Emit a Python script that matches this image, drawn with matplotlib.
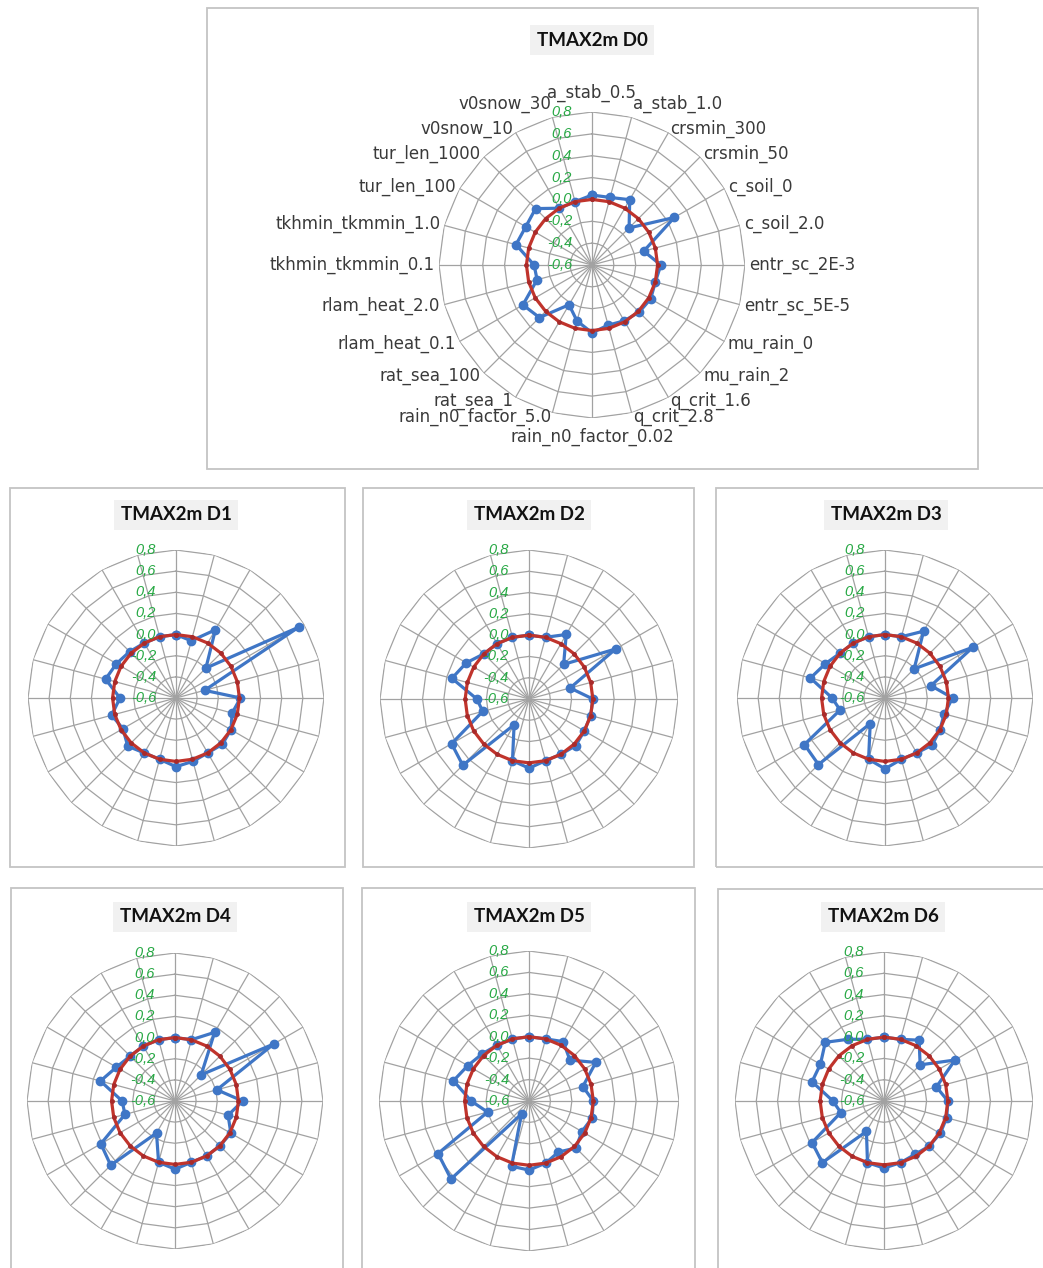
import numpy as np
import matplotlib
matplotlib.use("Agg")
import matplotlib.pyplot as plt
from matplotlib.patches import Rectangle
from matplotlib.transforms import offset_copy

# 24 perturbed parameters, clockwise from the top
categories = [
    "a_stab_0.5", "a_stab_1.0", "crsmin_300", "crsmin_50", "c_soil_0",
    "c_soil_2.0", "entr_sc_2E-3", "entr_sc_5E-5", "mu_rain_0", "mu_rain_2",
    "q_crit_1.6", "q_crit_2.8", "rain_n0_factor_0.02", "rain_n0_factor_5.0",
    "rat_sea_1", "rat_sea_100", "rlam_heat_0.1", "rlam_heat_2.0",
    "tkhmin_tkmmin_0.1", "tkhmin_tkmmin_1.0", "tur_len_100", "tur_len_1000",
    "v0snow_10", "v0snow_30",
]

r_ticks = [-0.6, -0.4, -0.2, 0.0, 0.2, 0.4, 0.6, 0.8]
r_labels = ["-0,6", "-0,4", "-0,2", "0,0", "0,2", "0,4", "0,6", "0,8"]

reference = [0.0, 0.0, 0.0, 0.0, 0.0, 0.0, 0.0, 0.0, 0.0, 0.0, 0.0, 0.0,
             0.0, 0.0, 0.0, 0.0, 0.0, 0.0, 0.0, 0.0, 0.0, 0.0, 0.0, 0.0]

tmax_d0 = [0.04, 0.04, 0.09, -0.12, 0.27, -0.11, 0.03, 0.00, 0.02, 0.01, -0.01, -0.03,
           0.02, -0.07, -0.18, 0.08, 0.13, -0.08, -0.07, 0.12, 0.10, 0.13, 0.00, 0.00]
tmax_d1 = [0.00, -0.04, 0.145, -0.20, 0.74, -0.32, 0.01, -0.05, 0.00, 0.02, 0.00, 0.02,
           0.05, 0.00, 0.00, 0.045, -0.02, 0.03, -0.07, 0.09, 0.05, 0.02, 0.00, 0.00]
tmax_d2 = [0.00, 0.00, 0.10, -0.14, 0.34, -0.20, 0.00, 0.00, 0.00, 0.02, 0.00, 0.00,
           0.05, 0.00, -0.32, 0.28, 0.24, -0.15, -0.11, 0.15, 0.08, 0.00, 0.00, 0.00]
tmax_d3 = [0.00, 0.00, 0.13, -0.21, 0.36, -0.15, 0.04, -0.02, 0.00, 0.03, 0.00, 0.00,
           0.07, 0.00, -0.32, 0.29, 0.28, -0.16, -0.10, 0.13, 0.05, 0.00, 0.00, 0.00]
tmax_d4 = [0.00, 0.00, 0.15, -0.25, 0.48, -0.19, 0.04, -0.08, 0.01, 0.00, 0.00, 0.00,
           0.045, 0.00, -0.25, 0.26, 0.21, -0.11, -0.10, 0.13, 0.04, 0.00, 0.00, 0.00]
tmax_d5 = [0.00, 0.00, 0.04, -0.06, 0.12, -0.08, 0.00, 0.01, -0.03, 0.02, -0.05, 0.00,
           0.045, 0.03, -0.46, 0.43, 0.38, -0.20, -0.06, 0.13, 0.06, 0.02, 0.00, 0.00]
tmax_d6 = [0.00, 0.00, 0.06, -0.12, 0.17, -0.09, 0.00, 0.01, 0.01, 0.00, -0.02, 0.00,
           0.03, 0.00, -0.27, 0.22, 0.18, -0.18, -0.12, 0.10, 0.09, 0.18, 0.07, 0.00]

titles = ["TMAX2m D0", "TMAX2m D1", "TMAX2m D2", "TMAX2m D3",
          "TMAX2m D4", "TMAX2m D5", "TMAX2m D6"]
series = [tmax_d0, tmax_d1, tmax_d2, tmax_d3, tmax_d4, tmax_d5, tmax_d6]

W, H = 1043, 1268
# layout in pixels: frame box, polar centre, radius, title centre
panels = [
    dict(box=(207, 8, 978, 469), c=(592, 265), R=153, t=(592, 40), labels=True),
    dict(box=(10, 488, 345, 867), c=(176, 698), R=148, t=(176, 515), labels=False),
    dict(box=(363, 488, 694, 867), c=(529, 699), R=149, t=(529, 515), labels=False),
    dict(box=(716, 488, 1060, 867), c=(885, 698), R=148, t=(886, 515), labels=False),
    dict(box=(11, 888, 343, 1290), c=(175, 1101), R=148, t=(175, 917), labels=False),
    dict(box=(362, 888, 695, 1290), c=(529, 1101), R=150, t=(529, 917), labels=False),
    dict(box=(718, 889, 1060, 1290), c=(884, 1101), R=149, t=(883, 917), labels=False),
]

GRID = "#a2a2a2"
BLUE = "#3f76c6"
RED = "#c0342c"
GREEN = "#27a844"

fig = plt.figure(figsize=(W / 100, H / 100), dpi=100)
fig.patch.set_facecolor("white")

theta = np.linspace(0, 2 * np.pi, len(categories), endpoint=False)
theta_closed = np.append(theta, theta[0])

for p, title, vals in zip(panels, titles, series):
    x0, y0, x1, y1 = p["box"]
    fig.add_artist(Rectangle((x0 / W, 1 - y1 / H), (x1 - x0) / W, (y1 - y0) / H,
                             transform=fig.transFigure, fill=False,
                             edgecolor="#c4c4c4", linewidth=1.3))
    fig.text(p["t"][0] / W, 1 - p["t"][1] / H, title, ha="center", va="center",
             fontsize=13.5, fontweight="bold", family="Lato", color="#111111",
             bbox=dict(boxstyle="square,pad=0.35", facecolor="#f1f1f1",
                       edgecolor="none"))

    cx, cy = p["c"]
    R = p["R"]
    ax = fig.add_axes([(cx - R) / W, 1 - (cy + R) / H, 2 * R / W, 2 * R / H],
                      projection="polar")
    ax.set_theta_zero_location("N")
    ax.set_theta_direction(-1)
    ax.set_ylim(r_ticks[0], r_ticks[-1])
    ax.set_xticks([])
    ax.set_yticks([])
    ax.grid(False)
    ax.spines["polar"].set_visible(False)
    ax.set_facecolor("none")

    # polygonal rings + spokes, Excel style
    for lvl in r_ticks[1:]:
        ax.plot(theta_closed, [lvl] * len(theta_closed), color=GRID,
                linewidth=0.9, zorder=1)
    for t in theta:
        ax.plot([t, t], [r_ticks[0], r_ticks[-1]], color=GRID,
                linewidth=0.9, zorder=1)

    ax.plot(theta_closed, vals + vals[:1], color=BLUE, linewidth=2.3,
            marker="o", markersize=6, zorder=3, clip_on=False)
    ax.plot(theta_closed, reference + reference[:1], color=RED, linewidth=2.3,
            marker="o", markersize=2.5, markerfacecolor="#a82a2a",
            markeredgecolor="#a82a2a", zorder=4, clip_on=False)

    lab_tr = offset_copy(ax.transData, fig=fig, x=-20, y=0, units="dots")
    for v, s in zip(r_ticks, r_labels):
        ax.text(0, v, s, transform=lab_tr, ha="right", va="center",
                fontsize=10.5, style="italic", family="Liberation Sans",
                color=GREEN, zorder=6)

    if p["labels"]:
        for t, name in zip(theta, categories):
            sn, cs = np.sin(t), np.cos(t)
            if abs(sn) < 0.1:
                ha, d = "center", 10
            else:
                ha, d = ("left" if sn > 0 else "right"), 4
            if cs > 0.9:
                va = "bottom"
            elif cs < -0.99:
                va = "top"
            else:
                va = "center"
            tr = offset_copy(ax.transData, fig=fig, x=d * sn, y=d * cs,
                             units="dots")
            ax.text(t, r_ticks[-1], name, transform=tr, ha=ha, va=va,
                    fontsize=12, family="DejaVu Sans", color="#3a3a3a",
                    clip_on=False)

fig.savefig("out.png", dpi=100)
